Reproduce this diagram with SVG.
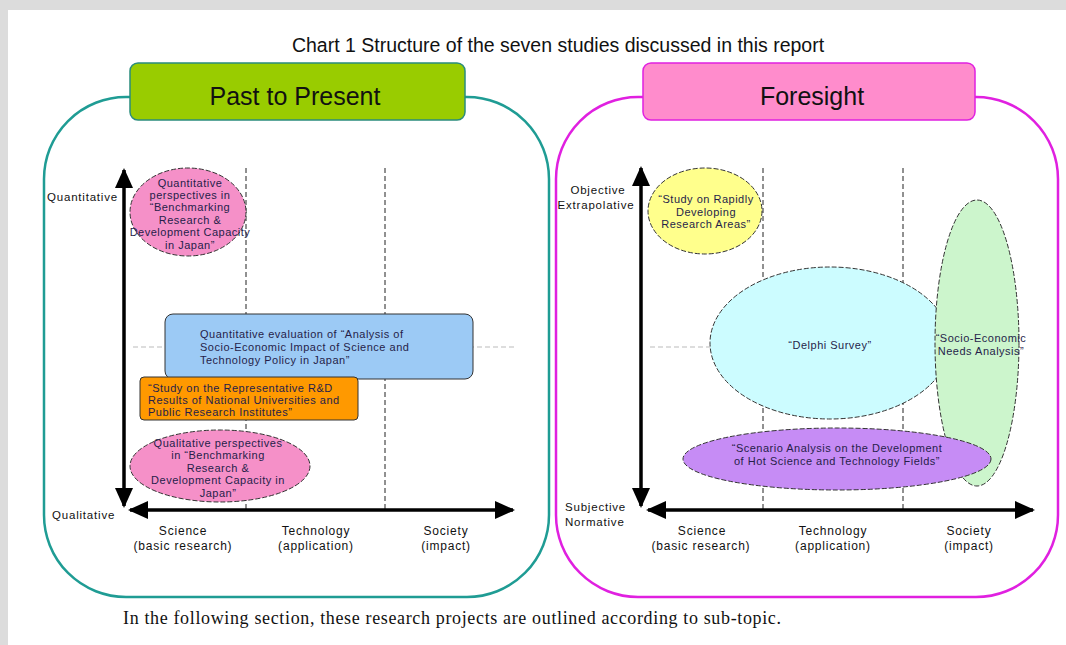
<svg xmlns="http://www.w3.org/2000/svg" width="1066" height="645" viewBox="0 0 1066 645">
  <style>
    .title { font-family: "Liberation Sans", Arial, sans-serif; font-size: 19.5px; fill: #111; }
    .foot { font-family: "Liberation Serif", "Times New Roman", serif; font-size: 18px; fill: #111; }
    .head { font-family: "Liberation Sans", Arial, sans-serif; font-size: 25px; fill: #111; text-anchor: middle; }
    .lbl { font-family: "Liberation Sans", Arial, sans-serif; font-size: 11.5px; letter-spacing: 0.8px; fill: #111; }
    .ax { font-family: "Liberation Sans", Arial, sans-serif; font-size: 12px; letter-spacing: 0.8px; fill: #111; text-anchor: middle; }
    .nt { font-family: "Liberation Sans", Arial, sans-serif; font-size: 11px; letter-spacing: 0.5px; fill: #261e4a; }
    .c { text-anchor: middle; }
    .ell { stroke: #333; stroke-width: 1; stroke-dasharray: 5 2; }
    .box { stroke: #333; stroke-width: 1; }
    .grid { stroke: #222; stroke-width: 1; stroke-dasharray: 5 3; fill: none; }
    .mid { stroke: #bbb; stroke-width: 1; stroke-dasharray: 5 3; fill: none; }
    .axis { stroke: #000; stroke-width: 3.5; fill: none; marker-start: url(#head); marker-end: url(#head); }
  </style>
  <defs>
    <marker id="head" viewBox="0 0 20 18" refX="18" refY="9" markerWidth="20" markerHeight="18" markerUnits="userSpaceOnUse" orient="auto-start-reverse">
      <path d="M0,0 L20,9 L0,18 Z" fill="#000"/>
    </marker>
  </defs>

  <!-- page background with grey frame -->
  <rect x="0" y="0" width="1066" height="645" fill="#dcdcdc"/>
  <rect x="8" y="10" width="1058" height="635" fill="#fff"/>

  <text class="title" x="558" y="52" text-anchor="middle">Chart 1 Structure of the seven studies discussed in this report</text>

  <!-- panel outlines -->
  <g id="panel-past">
    <rect x="44" y="97" width="505" height="500" rx="82" ry="82" fill="none" stroke="#1f9c94" stroke-width="2.5"/>
  </g>
  <g id="panel-foresight">
    <rect x="556" y="97" width="502" height="500" rx="82" ry="82" fill="none" stroke="#e020e0" stroke-width="2.5"/>
  </g>

  <g id="header-past">
    <rect x="130" y="63" width="335" height="57" rx="8" fill="#99cc00" stroke="#2a8c7c" stroke-width="1.5"/>
    <text class="head" x="295" y="105">Past to Present</text>
  </g>
  <g id="header-foresight">
    <rect x="643" y="63" width="332" height="57" rx="8" fill="#ff8ccc" stroke="#e020e0" stroke-width="1.5"/>
    <text class="head" x="812" y="105">Foresight</text>
  </g>

  <!-- grid lines -->
  <g id="grid">
    <line class="grid" x1="246" y1="168" x2="246" y2="510"/>
    <line class="grid" x1="385" y1="168" x2="385" y2="510"/>
    <line class="mid" x1="133" y1="347" x2="515" y2="347"/>
    <line class="grid" x1="763" y1="168" x2="763" y2="510"/>
    <line class="grid" x1="903" y1="168" x2="903" y2="510"/>
    <line class="mid" x1="650" y1="347" x2="1020" y2="347"/>
  </g>

  <!-- axes -->
  <g id="connectors">
    <line class="axis" x1="124" y1="506" x2="124" y2="170"/>
    <line class="axis" x1="130" y1="510" x2="513" y2="510"/>
    <line class="axis" x1="641" y1="506" x2="641" y2="168"/>
    <line class="axis" x1="648" y1="510" x2="1033" y2="510"/>
  </g>

  <!-- axis labels -->
  <g id="labels-past">
    <text class="lbl" x="47" y="201">Quantitative</text>
    <text class="lbl" x="52" y="519">Qualitative</text>
    <text class="ax" x="183" y="535">Science</text>
    <text class="ax" x="183" y="550">(basic research)</text>
    <text class="ax" x="316" y="535">Technology</text>
    <text class="ax" x="316" y="550">(application)</text>
    <text class="ax" x="446" y="535">Society</text>
    <text class="ax" x="446" y="550">(impact)</text>
  </g>
  <g id="labels-foresight">
    <text class="lbl c" x="598" y="194">Objective</text>
    <text class="lbl c" x="596" y="209">Extrapolative</text>
    <text class="lbl" x="565" y="511">Subjective</text>
    <text class="lbl" x="565" y="526">Normative</text>
    <text class="ax" x="702" y="535">Science</text>
    <text class="ax" x="701" y="550">(basic research)</text>
    <text class="ax" x="833" y="535">Technology</text>
    <text class="ax" x="833" y="550">(application)</text>
    <text class="ax" x="969" y="535">Society</text>
    <text class="ax" x="969" y="550">(impact)</text>
  </g>

  <!-- Past to Present studies -->
  <g id="quantitative-benchmarking">
    <ellipse class="ell" cx="188" cy="212" rx="58" ry="44" fill="#f590c8"/>
    <text class="nt c" x="190" y="187">Quantitative</text>
    <text class="nt c" x="190" y="199">perspectives in</text>
    <text class="nt c" x="190" y="211">“Benchmarking</text>
    <text class="nt c" x="190" y="224">Research &amp;</text>
    <text class="nt c" x="190" y="236">Development Capacity</text>
    <text class="nt c" x="190" y="249">in Japan”</text>
  </g>
  <g id="socio-economic-impact">
    <rect class="box" x="165" y="314" width="308" height="65" rx="8" fill="#9ccaf5"/>
    <text class="nt" x="200" y="338">Quantitative evaluation of “Analysis of</text>
    <text class="nt" x="200" y="351">Socio-Economic Impact of Science and</text>
    <text class="nt" x="200" y="364">Technology Policy in Japan”</text>
  </g>
  <g id="representative-rd">
    <rect class="box" x="140" y="377" width="218" height="43" rx="4" fill="#ff9900"/>
    <text class="nt" x="148" y="392">“Study on the Representative R&amp;D</text>
    <text class="nt" x="148" y="404">Results of National Universities and</text>
    <text class="nt" x="148" y="416">Public Research Institutes”</text>
  </g>
  <g id="qualitative-benchmarking">
    <ellipse class="ell" cx="220" cy="466" rx="90" ry="36" fill="#f590c8"/>
    <text class="nt c" x="218" y="447">Qualitative perspectives</text>
    <text class="nt c" x="218" y="459">in “Benchmarking</text>
    <text class="nt c" x="218" y="472">Research &amp;</text>
    <text class="nt c" x="218" y="484">Development Capacity in</text>
    <text class="nt c" x="218" y="497">Japan”</text>
  </g>

  <!-- Foresight studies -->
  <g id="rapidly-developing">
    <ellipse class="ell" cx="705" cy="211" rx="57" ry="43" fill="#ffff8c"/>
    <text class="nt c" x="706" y="203">“Study on Rapidly</text>
    <text class="nt c" x="706" y="216">Developing</text>
    <text class="nt c" x="706" y="228">Research Areas”</text>
  </g>
  <g id="delphi-survey">
    <ellipse class="ell" cx="830" cy="343" rx="120" ry="76" fill="#ccfcff"/>
    <text class="nt c" x="830" y="349">“Delphi Survey”</text>
  </g>
  <g id="needs-analysis">
    <ellipse class="ell" cx="977" cy="343" rx="42" ry="143" fill="#ccf5cc"/>
    <text class="nt c" x="981" y="342">“Socio-Economic</text>
    <text class="nt c" x="981" y="355">Needs Analysis”</text>
  </g>
  <g id="scenario-analysis">
    <ellipse class="ell" cx="837" cy="459" rx="154" ry="31" fill="#c68cf5"/>
    <text class="nt c" x="837" y="452">“Scenario Analysis on the Development</text>
    <text class="nt c" x="837" y="465">of Hot Science and Technology Fields”</text>
  </g>

  <text class="foot" x="123" y="624" textLength="658" lengthAdjust="spacing">In the following section, these research projects are outlined according to sub-topic.</text>
</svg>
